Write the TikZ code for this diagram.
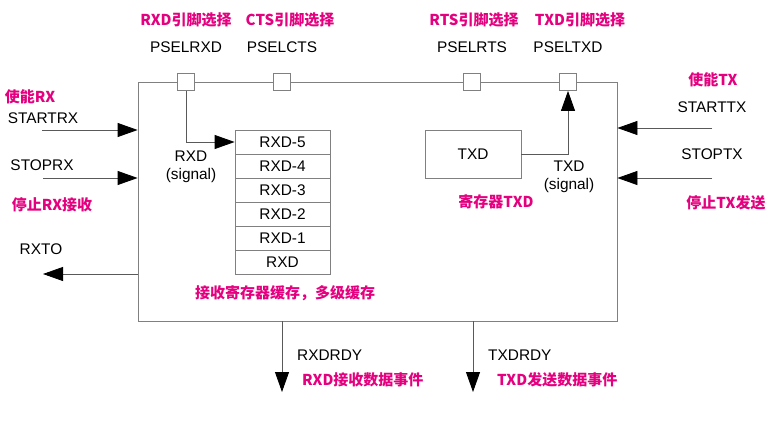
\documentclass[tikz,border=0pt]{standalone}
\usepackage{fontspec}
\setmainfont{Liberation Sans}
\newfontfamily\cjk{Noto Sans CJK SC}
\usetikzlibrary{arrows.meta, positioning, calc}
\definecolor{notered}{RGB}{228,0,127}
\definecolor{linegray}{RGB}{128,128,128}

\begin{document}
\begin{tikzpicture}[x=1pt, y=-1pt, >={Triangle[length=20pt, width=14pt, color=black]},
    font=\fontsize{15.4}{18}\selectfont,
    pinbox/.style={draw=linegray, fill=white, line width=0.8pt, minimum size=17pt, inner sep=0pt},
    note/.style={text=notered, inner sep=0pt, font=\fontsize{15}{18}\selectfont\cjk\bfseries},
    bufrow/.style={draw=linegray, line width=0.8pt, minimum width=95pt, minimum height=24pt, inner sep=0pt},
    wire/.style={draw=black!65, line width=0.8pt}]
    \useasboundingbox (0,0) rectangle (783,425);

    % main block
    \node[draw=linegray, line width=0.8pt, minimum width=479pt, minimum height=239pt, inner sep=0pt] (blk) at (377.5,201.5) {};

    % pins on top
    \node[pinbox] (prxd) at (186,82) {};
    \node[pinbox] (pcts) at (282,82) {};
    \node[pinbox] (prts) at (472,82) {};
    \node[pinbox] (ptxd) at (568,82) {};

    \node (nrxd) at (186,47) {PSELRXD};
    \node (ncts) at (282,47) {PSELCTS};
    \node (nrts) at (472,47) {PSELRTS};
    \node (ntxd) at (568,47) {PSELTXD};

    \node[note] (crxd) at (186,20) {RXD引脚选择};
    \node[note] (ccts) at (290,20) {CTS引脚选择};
    \node[note] (crts) at (474,20) {RTS引脚选择};
    \node[note] (ctxd) at (580,20) {TXD引脚选择};

    % left side signals
    \node[note] (cstartrx) at (30,97) {使能RX};
    \node (startrx) at (43,118) {STARTRX};
    \coordinate (in1) at (42,130);
    \node (stoprx) at (42,165) {STOPRX};
    \coordinate (in2) at (43,178);
    \node[note] (cstoprx) at (52,205) {停止RX接收};
    \node (rxto) at (41,249) {RXTO};
    \coordinate (out1) at (43,274);

    \draw[wire, ->] (in1) -- (in1 -| blk.west);
    \draw[wire, ->] (in2) -- (in2 -| blk.west);
    \draw[wire, ->] (out1 -| blk.west) -- (out1);

    % right side signals
    \node[note] (cstarttx) at (713,80) {使能TX};
    \node (starttx) at (712,107) {STARTTX};
    \coordinate (in3) at (712,128);
    \node (stoptx) at (712,154) {STOPTX};
    \coordinate (in4) at (712,178);
    \node[note] (cstoptx) at (726,203) {停止TX发送};

    \draw[wire, ->] (in3) -- (in3 -| blk.east);
    \draw[wire, ->] (in4) -- (in4 -| blk.east);

    % receive buffer
    \node[bufrow] (buf5) at (282.5,142) {RXD-5};
    \node[bufrow] (buf4) at (282.5,166) {RXD-4};
    \node[bufrow] (buf3) at (282.5,190) {RXD-3};
    \node[bufrow] (buf2) at (282.5,214) {RXD-2};
    \node[bufrow] (buf1) at (282.5,238) {RXD-1};
    \node[bufrow] (buf0) at (282.5,262) {RXD};

    \draw[wire, ->] (prxd.south) |- (buf5.west);
    \node[align=center] (rxsig) at (191,167) {RXD\\(signal)};
    \node[note] (cbuf) at (285,293) {接收寄存器缓存，多级缓存};

    % transmit register
    \node[bufrow, minimum width=96pt, minimum height=48pt] (txreg) at (473,154) {TXD};
    \draw[wire, ->] (txreg.east) -| (ptxd.south);
    \node[align=center] (txsig) at (569,177) {TXD\\(signal)};
    \node[note] (ctxreg) at (496,202) {寄存器TXD};

    % events
    \coordinate (rdy1) at (282,392);
    \coordinate (rdy2) at (473,392);
    \draw[wire, ->] (blk.south -| rdy1) -- (rdy1);
    \draw[wire, ->] (blk.south -| rdy2) -- (rdy2);

    \node[anchor=west, inner sep=0pt] (rxdrdy) at (297,355) {RXDRDY};
    \node[note, anchor=west] (crxdrdy) at (302,380) {RXD接收数据事件};
    \node[anchor=west, inner sep=0pt] (txdrdy) at (488,355) {TXDRDY};
    \node[note, anchor=west] (ctxdrdy) at (497,380) {TXD发送数据事件};
\end{tikzpicture}
\end{document}
